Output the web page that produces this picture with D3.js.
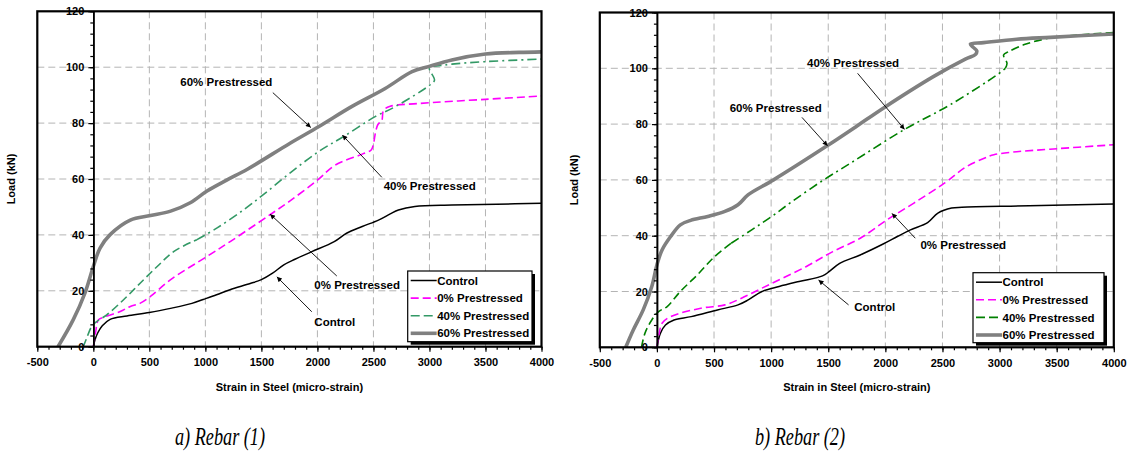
<!DOCTYPE html>
<html>
<head>
<meta charset="utf-8">
<script src="https://cdn.jsdelivr.net/npm/d3@7"></script>
<style>
  body { margin: 0; background: #fff; }
  svg { display: block; font-family: "Liberation Sans", Arial, sans-serif; }
</style>
</head>
<body>
<svg id="fig" width="1128" height="457"></svg>
<script>
// ---- axis ticks ----
const strainTicks = [-500, 0, 500, 1000, 1500, 2000, 2500, 3000, 3500, 4000];
const loadTicks = [0, 20, 40, 60, 80, 100, 120];
const seriesNames = ["Control", "0% Prestressed", "40% Prestressed", "60% Prestressed"];
const captions = ["a) Rebar (1)", "b) Rebar (2)"];

// ---- Rebar (1): [strain (micro-strain), load (kN)] ----
const rebar1Control = [[0,0],[15,2.5],[40,5],[80,7.5],[150,9.8],[300,11],[500,12.2],[700,13.8],[880,15.5],[980,16.9],[1100,18.6],[1220,20.4],[1400,22.6],[1500,24],[1600,26.3],[1700,29.3],[1800,31.3],[1950,34],[2150,37.6],[2260,40.6],[2400,43],[2545,45.3],[2650,47.5],[2723,48.9],[2870,50.2],[3200,50.7],[3600,51],[4000,51.3]];
const rebar1Pre0 = [[0,0],[20,5],[45,9.6],[90,10.5],[240,12.6],[330,14.4],[420,15.6],[510,18],[690,24],[1015,32.3],[1225,37.7],[1580,47.3],[1750,52],[2000,59.6],[2160,65],[2400,68.9],[2480,70.4],[2500,72.5],[2520,77],[2540,79.5],[2575,81],[2590,84.5],[2650,86],[2900,87],[3500,88.5],[4000,89.7]];
const rebar1Pre40 = [[-90,0],[-60,3],[-15,7.2],[30,9],[120,11.4],[270,16.8],[420,22.8],[570,28.7],[720,34.1],[925,38.3],[1105,42.5],[1345,49.1],[1520,54.5],[1760,62.3],[2010,69.8],[2230,75.1],[2515,82.3],[2695,85.9],[3013,93.9],[3045,95.4],[3000,99.8],[3100,100.6],[3200,101.1],[3500,102],[4000,102.9]];
const rebar1Pre60 = [[-315,0],[-180,9.6],[-75,19.2],[0,28.7],[60,35.3],[150,40.1],[330,45.3],[510,46.9],[690,48.5],[865,51.5],[1015,55.7],[1190,59.6],[1375,63.5],[1756,72.8],[2010,78.7],[2305,85.9],[2605,92.4],[2845,98.4],[2990,100.2],[3200,102.6],[3500,104.7],[3800,105.3],[4000,105.5]];

// ---- Rebar (2) ----
const rebar2Control = [[0,0],[30,5],[75,8],[150,9.8],[300,11],[530,13.4],[710,15.2],[800,17],[920,20],[1070,21.8],[1245,23.6],[1450,25.6],[1510,27.2],[1600,30.1],[1780,33.1],[1985,37.1],[2105,39.7],[2220,42.1],[2370,44.7],[2460,48.1],[2580,49.9],[2670,50.2],[3260,50.7],[4000,51.4]];
const rebar2Pre0 = [[0,0],[20,5],[45,8.6],[120,11],[385,14],[595,15.2],[740,17.6],[890,20.6],[1040,23.6],[1305,28.9],[1540,34.3],[1780,39.1],[2015,45.7],[2250,51.7],[2520,58.9],[2700,64.5],[2850,67.5],[2950,69],[3150,70.1],[3440,71],[4000,72.6]];
const rebar2Pre40 = [[-135,0],[-105,5],[-45,9.8],[15,12.8],[90,14.6],[205,20],[355,26],[505,32.5],[650,37.3],[830,42.1],[1005,46.9],[1185,52.3],[1460,60],[1695,66],[2160,77.9],[2570,87],[2975,97.6],[3050,100],[3065,101.8],[3035,104.8],[3080,106],[3210,108.4],[3385,110.4],[3590,111.6],[4000,112.8]];
const rebar2Pre60 = [[-273,0],[-207,6.2],[-120,13.4],[-45,21.8],[0,29.5],[45,34.9],[120,39.7],[205,43.9],[295,45.5],[445,46.9],[595,48.7],[710,51.1],[800,54.7],[1021,60],[1490,72.2],[1740,79],[1985,85.8],[2420,97],[2700,103.3],[2790,105],[2800,106.3],[2770,107.5],[2745,108.7],[2860,109.2],[3150,110.4],[3445,111.1],[4000,112.3]];

// ---- annotation callouts: text centre and arrow in data units ----
const rebar1Notes = [
  { label: "60% Prestressed", at: [1187, 94.8], from: [1602, 90.9], to: [1941, 78.4] },
  { label: "40% Prestressed", at: [3002, 57.5], from: [2575, 60.6], to: [2223, 75.7] },
  { label: "0% Prestressed",  at: [2355, 22.1], from: [2173, 25.3], to: [1578, 47.4] },
  { label: "Control",         at: [2155, 8.9],  from: [1950, 12.5], to: [1638, 25.0] }
];
const rebar2Notes = [
  { label: "40% Prestressed", at: [1717, 102], from: [1757, 98.2], to: [2168, 78.1] },
  { label: "60% Prestressed", at: [1040, 85.9], from: [1270, 82.4], to: [1494, 72.2] },
  { label: "0% Prestressed",  at: [2682, 36.7], from: [2262, 39.1], to: [2058, 48.0] },
  { label: "Control",         at: [1907, 14.3], from: [1678, 15.2], to: [1415, 24.1] }
];

const SANS = '"Liberation Sans", Arial, sans-serif';
const svg = d3.select("#fig");
const defs = svg.append("defs");
defs.append("marker")
  .attr("id", "arrow").attr("viewBox", "0 0 10 10").attr("refX", 10).attr("refY", 5)
  .attr("markerWidth", 7).attr("markerHeight", 5).attr("markerUnits", "userSpaceOnUse")
  .attr("orient", "auto")
  .append("path").attr("d", "M0,0L10,5L0,10Z").attr("fill", "#000");

const DASH = "8,4";
const DASHDOT = "9,4,2,4";

function boldText(sel, size) {
  sel.style("font-family", SANS).style("font-weight", "bold")
    .style("font-size", size + "px").attr("fill", "#000");
}

function drawPanel(p, idx) {
  const x = d3.scaleLinear().domain([-500, 4000]).range([p.x0, p.x1]);
  const y = d3.scaleLinear().domain([0, 120]).range([p.y1, p.y0]);
  const g = svg.append("g");

  defs.append("clipPath").attr("id", "clip" + idx)
    .append("rect").attr("x", p.x0).attr("y", p.y0)
    .attr("width", p.x1 - p.x0).attr("height", p.y1 - p.y0);

  // dashed grid
  const grid = g.append("g").attr("stroke", "#b4b4b4").attr("stroke-width", 1)
    .attr("stroke-dasharray", "7,4");
  grid.selectAll("line.v").data(strainTicks.filter(t => t > 0 && t < 4000)).join("line")
    .attr("x1", d => x(d)).attr("x2", d => x(d)).attr("y1", p.y0).attr("y2", p.y1);
  grid.selectAll("line.h").data(loadTicks.filter(t => t > 0 && t < 120)).join("line")
    .attr("x1", p.x0).attr("x2", p.x1).attr("y1", d => y(d)).attr("y2", d => y(d));

  // series
  const line = d3.line().x(d => x(d[0])).y(d => y(d[1])).curve(d3.curveCatmullRom.alpha(0.5));
  const lines = g.append("g").attr("clip-path", `url(#clip${idx})`).attr("fill", "none")
    .attr("stroke-linejoin", "round");

  p.series.forEach(s => {
    // split into runs of constant dash style, following the strain reached so far
    const runs = [];
    let cur = null, maxX = -Infinity;
    s.data.forEach(pt => {
      maxX = Math.max(maxX, pt[0]);
      const st = s.styleAt(maxX);
      if (!cur || cur.style !== st) {
        const prev = cur ? cur.pts[cur.pts.length - 1] : null;
        cur = { style: st, pts: prev ? [prev] : [] };
        runs.push(cur);
      }
      cur.pts.push(pt);
    });
    runs.forEach(r => {
      lines.append("path").attr("d", line(r.pts))
        .attr("stroke", s.color).attr("stroke-width", s.width)
        .attr("stroke-dasharray", r.style || null);
    });
  });

  const plain = d => String(d);

  // y axis at zero strain
  const yAxisMinor = d3.axisLeft(y).tickValues(d3.range(0, 121, 4)).tickSize(3).tickFormat("").tickSizeOuter(0);
  const yAxis = d3.axisLeft(y).tickValues(loadTicks).tickSize(5).tickPadding(4).tickFormat(plain).tickSizeOuter(0);
  const ya = g.append("g").attr("transform", `translate(${x(0)},0)`).call(yAxisMinor);
  const yb = g.append("g").attr("transform", `translate(${x(0)},0)`).call(yAxis);
  [ya, yb].forEach(a => {
    a.selectAll("line").attr("stroke", "#000").attr("stroke-width", 1.2);
    a.select(".domain").attr("stroke", "#000").attr("stroke-width", 1.6);
  });
  boldText(yb.selectAll("text"), 11);

  // x axis along the bottom
  const xAxisMinor = d3.axisBottom(x).tickValues(d3.range(-500, 4001, 100)).tickSize(3).tickFormat("").tickSizeOuter(0);
  const xAxis = d3.axisBottom(x).tickValues(strainTicks).tickSize(5).tickPadding(7).tickFormat(plain).tickSizeOuter(0);
  const xa = g.append("g").attr("transform", `translate(0,${p.y1})`).call(xAxisMinor);
  const xb = g.append("g").attr("transform", `translate(0,${p.y1})`).call(xAxis);
  [xa, xb].forEach(a => {
    a.selectAll("line").attr("stroke", "#000").attr("stroke-width", 1.2);
    a.select(".domain").attr("stroke", "none");
  });
  boldText(xb.selectAll("text"), 11);

  // plot border
  g.append("rect").attr("x", p.x0).attr("y", p.y0)
    .attr("width", p.x1 - p.x0).attr("height", p.y1 - p.y0)
    .attr("fill", "none").attr("stroke", "#000").attr("stroke-width", 2.2);

  // callouts
  const notes = g.append("g");
  p.notes.forEach(n => {
    notes.append("line")
      .attr("x1", x(n.from[0])).attr("y1", y(n.from[1]))
      .attr("x2", x(n.to[0])).attr("y2", y(n.to[1]))
      .attr("stroke", "#000").attr("stroke-width", 0.9).attr("marker-end", "url(#arrow)");
    notes.append("text").attr("x", x(n.at[0])).attr("y", y(n.at[1]))
      .attr("text-anchor", "middle").attr("dy", "0.35em")
      .call(boldText, 11.5).text(n.label);
  });

  // legend with drop shadow
  const L = p.legend;
  const lg = g.append("g");
  lg.append("rect").attr("x", L.x + 3).attr("y", L.y + 3).attr("width", L.w).attr("height", L.h).attr("fill", "#000");
  lg.append("rect").attr("x", L.x).attr("y", L.y).attr("width", L.w).attr("height", L.h)
    .attr("fill", "#fff").attr("stroke", "#000").attr("stroke-width", 1.2);
  p.series.forEach((s, i) => {
    const ry = L.y + 9.5 + i * 17.6;
    lg.append("line").attr("x1", L.x + 3).attr("x2", L.x + 29).attr("y1", ry).attr("y2", ry)
      .attr("stroke", s.color).attr("stroke-width", s.width)
      .attr("stroke-dasharray", s.legendDash || null);
    lg.append("text").attr("x", L.x + 29.5).attr("y", ry).attr("dy", "0.36em")
      .call(boldText, 11.5).text(seriesNames[i]);
  });

  // axis titles
  g.append("text")
    .attr("transform", `translate(${p.x0 - 22},${(p.y0 + p.y1) / 2}) rotate(-90)`)
    .attr("text-anchor", "middle").call(boldText, 11)
    .text("Load (kN)");
  g.append("text").attr("x", (p.x0 + p.x1) / 2).attr("y", p.y1 + 44)
    .attr("text-anchor", "middle").call(boldText, 11)
    .text("Strain in Steel (micro-strain)");

  // caption
  g.append("text").attr("x", p.capX).attr("y", 445)
    .style("font-family", '"Liberation Serif", "DejaVu Serif", serif')
    .style("font-style", "italic").style("font-size", "25px")
    .attr("textLength", 90).attr("lengthAdjust", "spacingAndGlyphs")
    .attr("fill", "#000")
    .text(captions[idx]);
}

const solid = () => null;

drawPanel({
  x0: 37.3, x1: 541.5, y0: 11.3, y1: 346.7, capX: 175,
  legend: { x: 407.7, y: 271, w: 124.3, h: 70.7 },
  notes: rebar1Notes,
  series: [
    { data: rebar1Control, color: "#000000", width: 1.5, styleAt: solid },
    { data: rebar1Pre0, color: "#ff00ff", width: 1.6, styleAt: () => DASH, legendDash: DASH },
    { data: rebar1Pre40, color: "#339966", width: 1.6, styleAt: v => v <= 925 ? DASH : DASHDOT, legendDash: "9,4,9,4,4,4" },
    { data: rebar1Pre60, color: "#808080", width: 3.6, styleAt: solid }
  ]
}, 0);

drawPanel({
  x0: 599.8, x1: 1113.8, y0: 12.5, y1: 347.3, capX: 755,
  legend: { x: 973, y: 272.7, w: 131, h: 70 },
  notes: rebar2Notes,
  series: [
    { data: rebar2Control, color: "#000000", width: 1.5, styleAt: solid },
    { data: rebar2Pre0, color: "#ff00ff", width: 1.6, styleAt: () => DASH, legendDash: DASH },
    { data: rebar2Pre40, color: "#008000", width: 1.6, styleAt: v => (v <= 650 || v >= 3065) ? DASH : DASHDOT, legendDash: "9,4,9,4,4,4" },
    { data: rebar2Pre60, color: "#808080", width: 3.6, styleAt: solid }
  ]
}, 1);
</script>
</body>
</html>
